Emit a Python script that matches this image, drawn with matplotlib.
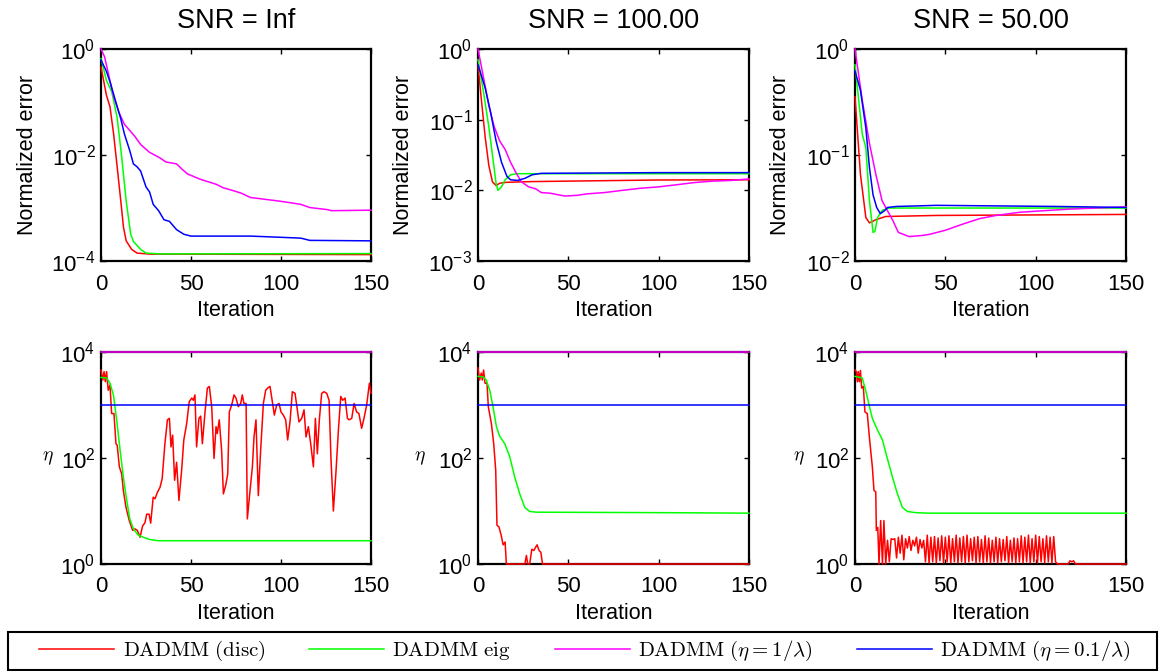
import numpy as np
import matplotlib
matplotlib.use('Agg')
import matplotlib.pyplot as plt
from matplotlib.ticker import FixedLocator, NullLocator, LogFormatterSciNotation
from matplotlib.lines import Line2D
from matplotlib.patches import Rectangle

plt.rcParams['font.family'] = ['Liberation Sans', 'DejaVu Sans']
plt.rcParams['mathtext.fontset'] = 'cm'

# ---------------- labels ----------------
titles = ['SNR = Inf', 'SNR = 100.00', 'SNR = 50.00']
legend_labels = [r'$\mathrm{DADMM\ (disc)}$', r'$\mathrm{DADMM\ eig}$',
                 r'$\mathrm{DADMM}\ (\eta = 1/\lambda)$',
                 r'$\mathrm{DADMM}\ (\eta = 0.1/\lambda)$']
colors = ['#ff0000', '#00ff00', '#ff00ff', '#0000ff']
x_ticks = [0, 50, 100, 150]

# ---------------- top row: normalized error ----------------
# SNR = Inf
t1_red_it = [0, 3, 5, 7, 9, 11, 12.5, 14, 17, 20, 27, 150]
t1_red = [0.46, 0.135, 0.081, 0.025, 0.0059, 0.00135, 0.00043, 0.00024, 0.000166, 0.000141, 0.000135, 0.000132]
t1_grn_it = [0, 3, 6, 9, 11.5, 14, 16.5, 18, 22, 25, 33, 150]
t1_grn = [0.66, 0.257, 0.155, 0.05, 0.0091, 0.00135, 0.00032, 0.000234, 0.000166, 0.000141, 0.000136, 0.000138]
t1_mag_it = [0, 2, 4, 7, 10, 13, 16, 19, 22, 27, 31, 33, 36, 42, 45, 48, 55, 64, 68, 74, 78, 83, 99, 105, 111, 116, 126, 128, 150]
t1_mag = [1.0, 0.71, 0.355, 0.126, 0.063, 0.038, 0.029, 0.022, 0.0158, 0.0112, 0.0095, 0.0087, 0.0074, 0.0068,
          0.0054, 0.0044, 0.0035, 0.0028, 0.0024, 0.0021, 0.0019, 0.00158, 0.00135, 0.00126, 0.00117, 0.00102,
          0.00093, 0.00089, 0.00091]
t1_blu_it = [0, 3, 5, 8, 11, 13, 16, 18, 20, 22, 25, 27, 29, 32, 35, 38, 42, 46, 50, 83, 100, 111, 116, 150]
t1_blu = [0.62, 0.38, 0.24, 0.107, 0.048, 0.025, 0.012, 0.0068, 0.006, 0.005, 0.0025, 0.002, 0.00117, 0.00089,
          0.0006, 0.00056, 0.00039, 0.00032, 0.000295, 0.000295, 0.00028, 0.00027, 0.000245, 0.00024]

# SNR = 100
t2_red_it = [0, 2, 4, 6, 8, 10, 12, 16, 30, 60, 100, 150]
t2_red = [0.59, 0.178, 0.056, 0.0224, 0.0132, 0.0117, 0.0126, 0.013, 0.0133, 0.0136, 0.014, 0.0141]
t2_grn_it = [0, 3, 6, 8, 10, 11, 13, 15, 18, 22, 150]
t2_grn = [0.71, 0.25, 0.079, 0.0316, 0.0126, 0.01, 0.0112, 0.0141, 0.0166, 0.0172, 0.0172]
t2_mag_it = [0, 3, 6, 9, 12, 15, 18, 21, 24, 28, 32, 35, 40, 48, 55, 60, 70, 80, 90, 100, 110, 120, 130, 140, 150]
t2_mag = [1.0, 0.4, 0.158, 0.079, 0.05, 0.038, 0.025, 0.0178, 0.0132, 0.0112, 0.0105, 0.0093, 0.0091, 0.0083,
          0.0085, 0.0089, 0.0093, 0.01, 0.0107, 0.0112, 0.012, 0.0129, 0.0135, 0.0138, 0.0145]
t2_blu_it = [0, 4, 7, 10, 13, 16, 18, 22, 26, 30, 35, 100, 150]
t2_blu = [0.60, 0.28, 0.126, 0.05, 0.025, 0.0158, 0.0141, 0.0138, 0.0148, 0.0166, 0.0174, 0.0178, 0.0178]

# SNR = 50
t3_red_it = [0, 3, 6, 8, 11.5, 17, 45, 150]
t3_red = [0.355, 0.066, 0.0257, 0.0229, 0.0245, 0.0263, 0.0269, 0.0275]
t3_grn_it = [0, 4, 6, 8, 10, 11, 12.5, 15, 19, 150]
t3_grn = [0.71, 0.158, 0.117, 0.037, 0.0186, 0.019, 0.0257, 0.030, 0.0316, 0.0316]
t3_mag_it = [0, 4, 8, 11.5, 15, 21, 24, 30, 37, 41, 50, 60, 69, 78, 91, 100, 119, 150]
t3_mag = [1.0, 0.33, 0.129, 0.066, 0.037, 0.024, 0.0186, 0.017, 0.0174, 0.0178, 0.0195, 0.0224, 0.0251, 0.0269,
          0.0288, 0.0295, 0.0309, 0.0324]
t3_blu_it = [0, 3, 6, 8, 10, 12, 14, 16, 18, 23, 32, 45, 111, 150]
t3_blu = [0.62, 0.41, 0.18, 0.076, 0.042, 0.032, 0.028, 0.0295, 0.032, 0.0327, 0.033, 0.0335, 0.0327, 0.032]

# ---------------- bottom row: eta ----------------
b1_red_it = [0, 1, 1.7, 2.4, 3.1, 4, 5, 5.9, 7.2, 8.3, 9, 10.2, 11.5, 12.4, 13.9, 15.7, 17.6, 18.9, 20.2, 21.7,
             23.1, 24.4, 25.4, 26.7, 27.6, 29, 30, 31.3, 32.8, 34, 35.5, 36.9, 38, 38.9, 39.8, 40.9, 42, 43.3,
             44.8, 46, 47.6, 49, 50.4, 51.3, 52.2, 53.1, 54.4, 55.4, 56.3, 57.8, 59.1, 60.2, 61.5, 62.8, 63.9,
             64.6, 65.7, 67, 68, 69.4, 70.4, 71.3, 72.6, 73.9, 75, 76.3, 77.6, 78.5, 79.4, 80.6, 81.3, 82.8, 84.1,
             85, 86.1, 87.4, 88.7, 90.2, 91.5, 92.6, 93.9, 95.2, 96.3, 97.6, 98.9, 100, 101.3, 102.6, 103.7, 105,
             106.3, 107.8, 108.7, 110, 111.5, 112.8, 113.9, 115.2, 116.5, 118, 119.1, 120.2, 121.3, 122.6, 123.9,
             125.4, 126.7, 127.8, 129.1, 130.6, 131.9, 133.2, 134.3, 135.6, 136.9, 137.8, 139.3, 140.6, 142,
             143.3, 144.8, 146.1, 147.6, 149.1, 150]
b1_red = [4570, 2950, 4270, 2750, 4270, 1900, 2400, 690, 690, 186, 174, 68, 50, 24.5, 11.7, 6.6, 4.3, 4.6, 4.3, 3.2,
          5.2, 6.0, 8.7, 8.7, 5.9, 18.2, 17, 22.4, 28, 41, 186, 525, 560, 162, 270, 38, 83, 15.8,
          59, 219, 447, 1150, 1350, 1230, 1550, 162, 560, 617, 186, 740, 2090, 2240, 930, 98, 390,
          290, 525, 141, 21, 32, 50, 740, 1000, 1550, 1350, 930, 1070, 1550, 1070, 1070, 7.1, 24.5, 68,
          250, 525, 19.5, 141, 1070, 1900, 2090, 2240, 1150, 645, 1000, 1070, 740, 645, 525, 219, 479,
          1780, 1660, 1000, 479, 560, 810, 250, 390, 186, 68, 560, 120, 525, 1660, 1780,
          1660, 1230, 91, 10, 59, 340, 1450, 1230, 1350, 560, 525, 560, 1070, 740,
          690, 363, 560, 1000, 2570, 1660]
b1_grn_it = [0, 3.1, 5, 6.9, 8.7, 10.6, 12.4, 14.3, 16, 18, 20.7, 23.5, 27, 31.8, 150]
b1_grn = [3310, 3240, 2570, 1550, 525, 141, 44, 15.8, 7.1, 4.6, 3.5, 3.2, 2.9, 2.75, 2.75]

b2_red_it = [0, 0.9, 1.8, 2.4, 3.1, 3.9, 5, 5.7, 7.4, 8.7, 9.8, 10.5, 11.6, 12.9, 13.9, 15, 15.7, 25.9, 26.8, 27.5,
             28.6, 29.8, 30.9, 32, 32.7, 33.8, 34.8, 35.7, 150]
b2_red = [5000, 2950, 4000, 2950, 4570, 2570, 2570, 930, 447, 186, 59, 5.4, 5.0, 3.4, 2.3, 2.6, 1, 1, 1.45, 1,
          1, 1.9, 1.8, 2.1, 2.3, 1.8, 1.66, 1, 1]
b2_grn_it = [0, 2.8, 4.6, 6.5, 8.3, 10.2, 12, 14.8, 17.6, 20.3, 23.1, 25.9, 28.6, 32.3, 102.6, 150]
b2_grn = [3470, 3390, 2950, 1900, 930, 390, 257, 186, 105, 44, 21, 11.7, 9.8, 9.5, 9.3, 9.1]

b3_red_head_it = [0, 0.7, 1.3, 1.8, 2.4, 3, 3.7, 4.6, 5.5, 6.8, 8.1, 9.6, 10.5, 11.5, 11.8, 12.6, 13.3, 14.2, 15.2,
                  16, 17]
b3_red_head = [4570, 4270, 2750, 4270, 2750, 4470, 2090, 2240, 740, 690, 219, 68, 24.5, 23, 4.3, 4.9, 1, 6.6, 1,
               6.6, 1]
b3_red_osc_it = list(range(18, 112))
b3_red_osc = [2.8, 1.1, 3.0, 2.9, 3.0, 1.3, 3.2, 1.6, 3.5, 1.2, 3.0, 2.0, 3.3, 1.8, 2.8, 2.2, 3.2, 1.6, 2.9, 2.0,
              2.8, 1.1, 3.5, 1.05, 3.2, 1.1, 3.3, 1.05, 3.1, 1.15, 3.4, 1.05, 3.2, 1.1, 3.4, 1.05, 3.0, 1.1, 3.5,
              1.05, 3.1, 1.1, 3.3, 1.05, 3.5, 1.1, 3.0, 1.15, 3.2, 1.05, 3.3, 1.1, 2.9, 1.05, 3.4, 1.1, 3.1, 1.05,
              2.8, 1.1, 3.2, 1.05, 3.0, 1.1, 2.9, 1.15, 3.3, 1.05, 2.8, 1.1, 3.1, 1.05, 3.0, 1.1, 3.4, 1.05, 3.2,
              1.1, 3.5, 1.05, 3.0, 1.1, 3.5, 1.05, 3.3, 1.1, 3.0, 1.05, 3.4, 1.1, 3.2, 1.05, 3.3, 1.1]
b3_red_tail_it = [112, 118, 119, 120, 121, 122, 150]
b3_red_tail = [1, 1, 1.15, 1.1, 1.15, 1, 1]
b3_grn_it = [0, 4, 5.9, 7.8, 9.6, 12.4, 15.2, 17.9, 20.7, 23.5, 26.2, 29, 33.6, 41, 150]
b3_grn = [3470, 3240, 1900, 1000, 560, 340, 219, 98, 44, 21, 11.7, 9.8, 9.3, 9.1, 9.1]

const_it = [0, 150]
eta_mag = [1e4, 1e4]   # eta = 1/lambda
eta_blu = [1e3, 1e3]   # eta = 0.1/lambda

b3_red_it = b3_red_head_it + b3_red_osc_it + b3_red_tail_it
b3_red = b3_red_head + b3_red_osc + b3_red_tail

top_series = [
    [(t1_red_it, t1_red), (t1_grn_it, t1_grn), (t1_mag_it, t1_mag), (t1_blu_it, t1_blu)],
    [(t2_red_it, t2_red), (t2_grn_it, t2_grn), (t2_mag_it, t2_mag), (t2_blu_it, t2_blu)],
    [(t3_red_it, t3_red), (t3_grn_it, t3_grn), (t3_mag_it, t3_mag), (t3_blu_it, t3_blu)],
]
top_ylims = [(1e-4, 1e0), (1e-3, 1e0), (1e-2, 1e0)]
top_yticks = [[1e-4, 1e-2, 1e0], [1e-3, 1e-2, 1e-1, 1e0], [1e-2, 1e-1, 1e0]]

bot_series = [
    [(b1_red_it, b1_red), (b1_grn_it, b1_grn), (const_it, eta_mag), (const_it, eta_blu)],
    [(b2_red_it, b2_red), (b2_grn_it, b2_grn), (const_it, eta_mag), (const_it, eta_blu)],
    [(b3_red_it, b3_red), (b3_grn_it, b3_grn), (const_it, eta_mag), (const_it, eta_blu)],
]

# ---------------- figure ----------------
W, H = 1160, 671
fig = plt.figure(figsize=(W / 100, H / 100), dpi=100)

lefts = [101, 478, 855]
rights = [371, 749, 1126]
top_row = (49, 261)
bot_row = (352, 564)
eta_label_x = [-0.196, -0.215, -0.207]

FS_TICK = 16
FS_LAB = 15.5


def make_ax(l, r, t, b):
    return fig.add_axes([l / W, 1 - b / H, (r - l) / W, (b - t) / H])


def style(ax, ylim, yticks):
    ax.set_yscale('log')
    ax.set_xlim(0, 150)
    ax.set_ylim(*ylim)
    ax.xaxis.set_major_locator(FixedLocator(x_ticks))
    ax.yaxis.set_major_locator(FixedLocator(yticks))
    ax.yaxis.set_major_formatter(LogFormatterSciNotation())
    ax.yaxis.set_minor_locator(NullLocator())
    ax.xaxis.set_minor_locator(NullLocator())
    ax.tick_params(direction='in', top=True, right=True, length=3.5, width=1,
                   labelsize=FS_TICK, colors='black')
    ax.tick_params(axis='x', pad=9)
    ax.tick_params(axis='y', pad=4)
    for s in ax.spines.values():
        s.set_linewidth(1.6)
        s.set_color('black')
    ax.set_xlabel('Iteration', fontsize=FS_LAB, labelpad=4)


for i in range(3):
    ax = make_ax(lefts[i], rights[i], *top_row)
    for (xs, ys), c in zip(top_series[i], colors):
        ax.plot(xs, ys, color=c, lw=1.1, clip_on=False, zorder=3)
    style(ax, top_ylims[i], top_yticks[i])
    ax.set_title(titles[i], fontsize=19.5, pad=15)
    ax.set_ylabel('Normalized error', fontsize=FS_LAB)
    ax.yaxis.set_label_coords(-0.235, 0.5)

    ax2 = make_ax(lefts[i], rights[i], *bot_row)
    for (xs, ys), c in zip(bot_series[i], colors):
        ax2.plot(xs, ys, color=c, lw=1.1, clip_on=False, zorder=3)
    style(ax2, (1e0, 1e4), [1e0, 1e2, 1e4])
    ax2.set_ylabel(r'$\eta$', fontsize=14, rotation=0, ha='center', va='center')
    ax2.yaxis.set_label_coords(eta_label_x[i], 0.5)

# legend frame drawn as a figure rectangle spanning the full width
fig.patches.append(Rectangle((8 / W, 1 - 670 / H), 1149 / W, 38 / H, transform=fig.transFigure,
                             facecolor='white', edgecolor='black', linewidth=1.5, zorder=0))

handles = [Line2D([], [], color=c, lw=1.1) for c in colors]
leg = fig.legend(handles, legend_labels, loc='center',
                 bbox_to_anchor=(585 / W, 1 - 651 / H),
                 ncol=4, frameon=False,
                 handlelength=3.6, handletextpad=0.4, columnspacing=2.1,
                 borderaxespad=0, fontsize=15, borderpad=0.3)

fig.savefig('out.png', dpi=100)
